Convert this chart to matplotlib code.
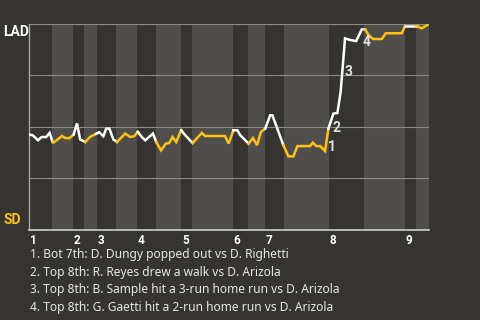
import numpy as np
import matplotlib
matplotlib.use('Agg')
import matplotlib.pyplot as plt

# game progress (0-100) and Dodgers win probability (%) after each play
progress = [0, 0.9, 2.25, 3.15, 4.3, 5.15, 5.9, 6.15, 8.25, 9.05, 10.15, 11.15,
            12.0, 12.8, 14.05, 15.3, 16.8, 17.55, 18.6, 19.3, 20.1, 21.1, 22.0,
            24.05, 25.3, 26.3, 27.2, 28.2, 29.05, 31.0, 31.8, 33.0, 34.2, 35.05,
            35.9, 36.8, 38.05, 39.05, 40.9, 43.2, 44.0, 49.0, 49.9, 51.1, 52.1,
            52.8, 54.9, 56.0, 57.0, 58.0, 59.05, 60.3, 60.85, 63.6, 64.85, 66.1,
            67.1, 70.3, 70.95, 71.8, 72.8, 74.0, 74.85, 76.1, 77.1, 77.9, 78.4,
            79.0, 80.3, 81.8, 83.2, 84.0, 84.9, 86.0, 88.2, 89.2, 93.2, 94.0,
            96.9, 98.2, 100]
lad_wp = [46.2, 45.9, 43.4, 45.0, 45.0, 47.0, 42.6, 42.3, 45.5, 44.5, 44.5, 46.2,
          51.6, 43.8, 42.6, 45.1, 46.6, 47.3, 45.4, 49.1, 49.1, 43.8, 42.6,
          46.7, 45.0, 45.4, 47.5, 45.0, 43.4, 46.7, 42.6, 38.5, 41.8, 42.1,
          45.0, 42.6, 48.3, 45.9, 42.1, 47.0, 45.5, 45.5, 41.8, 48.3, 48.3,
          45.9, 41.8, 44.5, 41.0, 47.5, 49.1, 55.6, 55.6, 41.0, 35.6, 35.6,
          40.6, 40.6, 42.3, 40.6, 40.6, 38.2, 49.1, 56.4, 56.7, 66.8, 78.5,
          93.0, 92.2, 91.7, 97.4, 97.4, 94.6, 92.7, 92.7, 95.5, 95.5, 99.0,
          99.0, 97.9, 100]

# half-inning boundaries (top 1st ... bottom 9th)
half_starts = [0, 5.82, 11.07, 13.8, 17.06, 21.8, 27.05, 31.8, 38.05, 40.8,
               51.0, 54.8, 59.0, 63.8, 75.0, 83.8, 94.0, 96.8]
game_end = 100
innings = ['1', '2', '3', '4', '5', '6', '7', '8', '9']

# key plays: label, progress, win prob
key_labels = ['1', '2', '3', '4']
key_x = [75.6, 76.8, 79.8, 84.3]
key_y = [40.0, 49.3, 76.6, 91.2]
key_text = ['1. Bot 7th: D. Dungy popped out vs D. Righetti',
            '2. Top 8th: R. Reyes drew a walk vs D. Arizola',
            '3. Top 8th: B. Sample hit a 3-run home run vs D. Arizola',
            '4. Top 8th: G. Gaetti hit a 2-run home run vs D. Arizola']

bg = '#363430'
band = '#4f4e4c'
gold = '#ffc20e'
white = '#ffffff'
bold_font = ['Roboto', 'DejaVu Sans']

plt.rcParams['font.family'] = ['Noto Sans', 'DejaVu Sans']

fig = plt.figure(figsize=(4.8, 3.2), dpi=100, facecolor=bg)
ax = fig.add_axes([29 / 480, 1 - 229.5 / 320, 400 / 480, 205.5 / 320])
ax.set_facecolor(bg)

edges = half_starts + [game_end]
for i in range(len(half_starts)):
    if i % 2 == 1:
        ax.axvspan(edges[i], edges[i + 1], color=band, lw=0, zorder=0)

for g in [25, 50, 75, 100]:
    ax.axhline(g, color='#8c8a87', lw=0.8, zorder=1)

# colour each segment by which team is batting
x = np.array(progress)
y = np.array(lad_wp)
mids = (x[:-1] + x[1:]) / 2
half_idx = np.searchsorted(half_starts, mids, side='right') - 1
start = 0
for k in range(1, len(mids) + 1):
    if k == len(mids) or half_idx[k] % 2 != half_idx[start] % 2:
        col = white if half_idx[start] % 2 == 0 else gold
        ax.plot(x[start:k + 1], y[start:k + 1], color=col, lw=1.8,
                solid_joinstyle='miter', zorder=3)
        start = k

for lab, kx, ky in zip(key_labels, key_x, key_y):
    ax.text(kx, ky, lab, color='#e0e0e0', fontsize=10, fontweight='bold',
            family=bold_font, ha='center', va='center', zorder=4)

ax.set_xlim(0, game_end)
ax.set_ylim(0, 100)
ax.set_xticks([])
ax.set_yticks([])
for s in ['top', 'right']:
    ax.spines[s].set_visible(False)
ax.spines['left'].set_color('#a8a8a8')
ax.spines['bottom'].set_color('#d0d0d0')
ax.spines['left'].set_linewidth(1)
ax.spines['bottom'].set_linewidth(1.2)

for i, lab in enumerate(innings):
    ax.annotate(lab, (half_starts[2 * i], 0), xytext=(0.5, -3),
                textcoords='offset points', color=white, fontsize=8.5,
                fontweight='bold', family=bold_font, ha='left', va='top')

fig.text(3 / 480, 1 - 25 / 320, 'LAD', color=white, fontsize=10,
         fontweight='bold', family=bold_font, ha='left', va='top')
fig.text(3 / 480, 1 - 227 / 320, 'SD', color=gold, fontsize=10,
         fontweight='bold', family=bold_font, ha='left', va='bottom')

for i, t in enumerate(key_text):
    fig.text(30 / 480, 1 - (254.5 + i * 17.7) / 320, t, color='#e6e6e6',
             fontsize=8.6, ha='left', va='center')

fig.savefig('out.png', dpi=100, facecolor=bg)
